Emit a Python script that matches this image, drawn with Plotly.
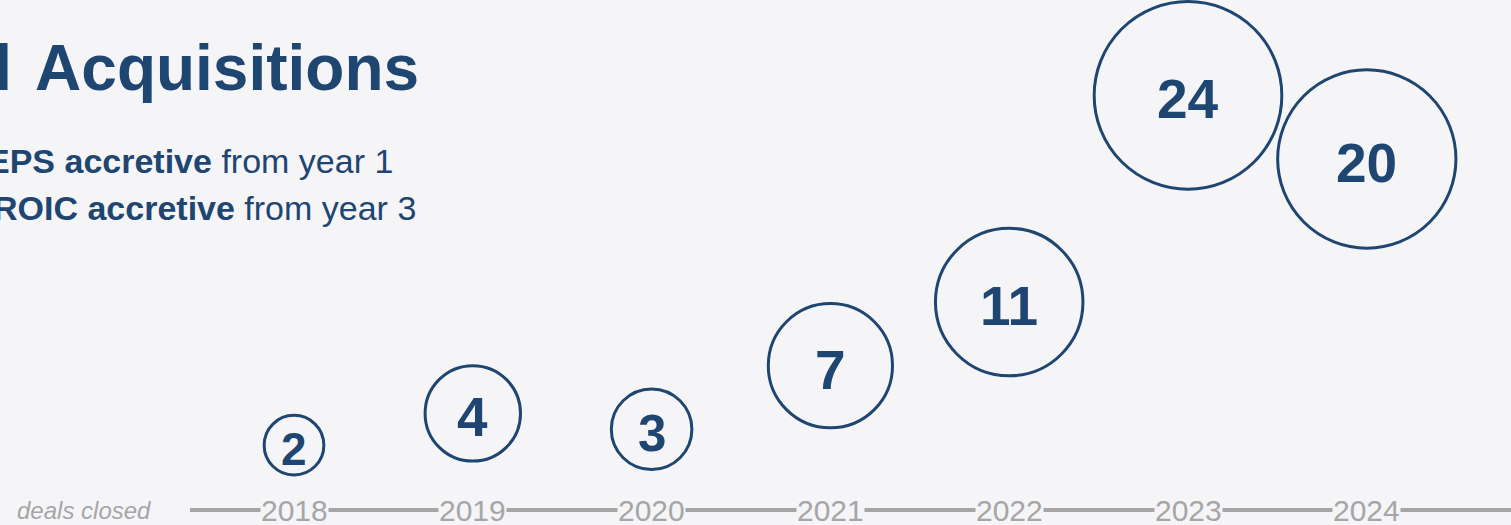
import numpy as np
import plotly.graph_objects as go

# Deals closed per year
years = [2018, 2019, 2020, 2021, 2022, 2023, 2024]
deals = [2, 4, 3, 7, 11, 24, 20]

title_text = "Successful \u200aAcquisitions"
bullet_lines = [
    ("EPS accretive", " from year 1"),
    ("ROIC accretive", " from year 3"),
]
axis_caption = "deals closed"

W, H = 1511, 525
BG = "#f5f5f8"
NAVY = "#1f4571"
GREY = "#a6a6a6"
FONT = "Arial, 'Liberation Sans', sans-serif"

# Bubble diameter grows with the log of the deal count; label size follows
vals = np.array(deals, dtype=float)
diam = 24 + 51.5 * np.log(vals)
label_size = np.minimum(55, 31 + 0.25 * diam)

fig = go.Figure()
fig.add_trace(go.Scatter(
    x=years,
    y=deals,
    mode="markers",
    marker=dict(
        size=diam.tolist(),
        sizemode="diameter",
        color="rgba(0,0,0,0)",
        opacity=1,
        line=dict(color=NAVY, width=3),
    ),
    hoverinfo="skip",
    showlegend=False,
    cliponaxis=False,
))

# Timeline rule along the bottom
fig.add_shape(type="line", xref="paper", yref="paper",
              x0=190 / W, x1=1.0, y0=1 - 510 / H, y1=1 - 510 / H,
              line=dict(color=GREY, width=4), layer="below")

annotations = []

# Deal counts written inside each bubble
for yr, d, fs in zip(years, deals, label_size):
    annotations.append(dict(
        x=yr, xref="x", y=d, yref="y",
        text=f"<b>{d}</b>", showarrow=False,
        xanchor="center", yanchor="middle", yshift=-4,
        font=dict(family=FONT, size=float(fs), color=NAVY),
    ))

# Year labels sitting on the timeline
for yr in years:
    annotations.append(dict(
        x=yr, xref="x", y=1 - 510 / H, yref="paper",
        text=str(yr), showarrow=False, xanchor="center", yanchor="middle",
        height=26, valign="middle",
        font=dict(family=FONT, size=30, color=GREY),
        bgcolor=BG, borderpad=0,
    ))

annotations.append(dict(
    x=15 / W, xref="paper", y=1 - 510 / H, yref="paper",
    text=f"<i>{axis_caption}</i>", showarrow=False,
    xanchor="left", yanchor="middle", height=24, valign="middle",
    font=dict(family=FONT, size=24, color=GREY),
))

annotations.append(dict(
    x=421 / W, xref="paper", y=1 - 68 / H, yref="paper",
    text=f"<b>{title_text}</b>", showarrow=False,
    xanchor="right", yanchor="middle",
    font=dict(family=FONT, size=64, color=NAVY),
))

for (bold, rest), right_px, mid_px in zip(bullet_lines, [395, 418], [161, 208]):
    annotations.append(dict(
        x=right_px / W, xref="paper", y=1 - mid_px / H, yref="paper",
        text=f"<b>{bold}</b>{rest}", showarrow=False,
        xanchor="right", yanchor="middle",
        font=dict(family=FONT, size=34, color=NAVY),
    ))

# Axis ranges map years and deal counts onto the canvas
x_per_year = 178.8
x0 = 2018 - 294 / x_per_year
x1 = x0 + W / x_per_year
px_per_deal = 15.9
y1 = 477 / px_per_deal
y0 = y1 - H / px_per_deal

fig.update_layout(
    width=W, height=H,
    margin=dict(l=0, r=0, t=0, b=0),
    paper_bgcolor=BG, plot_bgcolor=BG,
    xaxis=dict(range=[x0, x1], visible=False, fixedrange=True),
    yaxis=dict(range=[y0, y1], visible=False, fixedrange=True),
    annotations=annotations,
    font=dict(family=FONT),
)

fig.write_html("out.html", config={"displayModeBar": False})
